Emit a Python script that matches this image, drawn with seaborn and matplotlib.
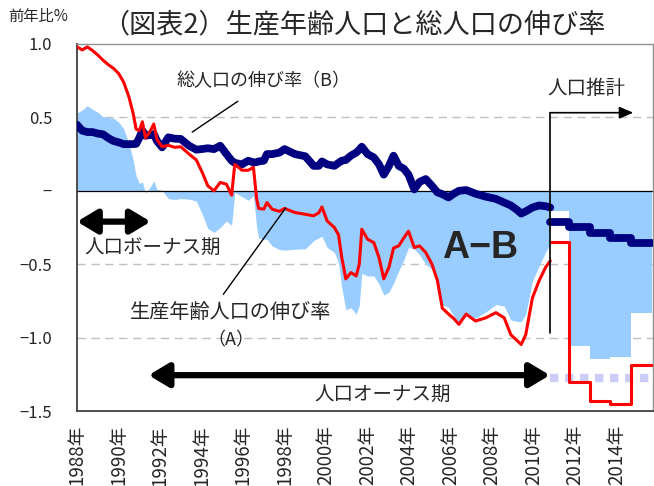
import numpy as np
import pandas as pd
import matplotlib
matplotlib.use("Agg")
import matplotlib.pyplot as plt
import seaborn as sns

# ---------------- data ----------------
hist_t = [1988.00, 1988.25, 1988.50, 1988.75, 1989.00, 1989.25, 1989.50, 1989.75,
          1990.00, 1990.25, 1990.50, 1990.70, 1990.85, 1991.00, 1991.15, 1991.30,
          1991.50, 1991.70, 1991.85, 1992.10, 1992.40, 1992.70, 1993.00, 1993.40,
          1993.75, 1994.05, 1994.30, 1994.60, 1994.90, 1995.20, 1995.45, 1995.60,
          1995.95, 1996.25, 1996.50, 1996.65, 1996.75, 1997.00, 1997.15, 1997.40,
          1997.75, 1998.00, 1998.50, 1999.00, 1999.40, 1999.65, 1999.80, 2000.05,
          2000.40, 2000.60, 2000.75, 2000.95, 2001.20, 2001.45, 2001.60, 2001.72,
          2002.00, 2002.30, 2002.55, 2002.78, 2003.03, 2003.25, 2003.50, 2003.75,
          2003.97, 2004.25, 2004.50, 2004.80, 2005.10, 2005.36, 2005.60, 2005.90,
          2006.15, 2006.40, 2006.75, 2007.20, 2007.70, 2008.18, 2008.58, 2008.90,
          2009.20, 2009.40, 2009.62, 2009.94, 2010.26, 2010.58, 2010.80]

# (A) working-age population growth
hist_A = [0.98, 0.96, 0.98, 0.955, 0.925, 0.89, 0.86, 0.835,
          0.80, 0.74, 0.64, 0.53, 0.42, 0.41, 0.47, 0.36,
          0.40, 0.455, 0.35, 0.30, 0.31, 0.296, 0.30, 0.25,
          0.21, 0.12, 0.034, 0.0, 0.057, 0.045, -0.03, 0.18,
          0.14, 0.14, 0.16, -0.05, -0.12, -0.125, -0.08, -0.125,
          -0.14, -0.12, -0.148, -0.16, -0.17, -0.15, -0.11, -0.205,
          -0.25, -0.30, -0.45, -0.60, -0.557, -0.58, -0.50, -0.262,
          -0.33, -0.353, -0.455, -0.60, -0.52, -0.39, -0.375, -0.32,
          -0.275, -0.387, -0.375, -0.42, -0.50, -0.61, -0.80, -0.84,
          -0.87, -0.91, -0.84, -0.887, -0.865, -0.83, -0.865, -0.98,
          -1.02, -1.047, -0.98, -0.73, -0.614, -0.52, -0.478]

# (B) total population growth
hist_B = [0.45, 0.41, 0.40, 0.40, 0.39, 0.385, 0.36, 0.34,
          0.33, 0.318, 0.318, 0.318, 0.32, 0.36, 0.41, 0.375,
          0.38, 0.387, 0.34, 0.296, 0.364, 0.355, 0.353, 0.307,
          0.28, 0.285, 0.29, 0.284, 0.307, 0.25, 0.205, 0.19,
          0.18, 0.205, 0.193, 0.195, 0.20, 0.205, 0.25, 0.25,
          0.26, 0.284, 0.25, 0.235, 0.17, 0.17, 0.20, 0.18,
          0.17, 0.19, 0.205, 0.21, 0.24, 0.26, 0.28, 0.30,
          0.25, 0.227, 0.18, 0.11, 0.17, 0.239, 0.17, 0.15,
          0.11, 0.01, 0.06, 0.08, 0.034, -0.01, -0.023, -0.045,
          -0.02, 0.0, 0.005, -0.02, -0.04, -0.055, -0.08, -0.10,
          -0.13, -0.155, -0.14, -0.114, -0.10, -0.105, -0.114]

proj_years = [2011, 2012, 2013, 2014, 2015]
proj_A = [-0.35, -1.30, -1.43, -1.45, -1.19]
proj_B = [-0.21, -0.244, -0.285, -0.32, -0.357]
proj_ref = -1.275   # light lavender dotted reference level

y_ticks = [1.0, 0.5, 0.0, -0.5, -1.0, -1.5]
y_ticklabels = ["1.0", "0.5", "\u2212", "\u22120.5", "\u22121.0", "\u22121.5"]
x_ticks = list(range(1988, 2015, 2))
x_ticklabels = [f"{y}年" for y in x_ticks]

# ---------------- style ----------------
sns.set_theme(style="white")
plt.rcParams["font.family"] = ["Noto Sans CJK JP", "DejaVu Sans"]
plt.rcParams["axes.unicode_minus"] = True

RED = "#FF0000"
NAVY = "#000080"
FILL = "#99CCFF"
LAV = "#CCCCF8"

fig = plt.figure(figsize=(6.54, 4.86), dpi=100)
ax = fig.add_axes([77 / 654, 1 - 411 / 486, (653 - 77) / 654, (411 - 44) / 486])

hist = pd.DataFrame({"t": hist_t, "A": hist_A, "B": hist_B})
hist["AB"] = hist["A"] - hist["B"]

# projection step edges (annual values)
edges = [hist_t[-1]] + [y + 0.7 for y in proj_years]
proj = pd.DataFrame({"t": edges,
                     "A": proj_A + [proj_A[-1]],
                     "B": proj_B + [proj_B[-1]]})
proj["AB"] = proj["A"] - proj["B"]

# fills A-B
ax.fill_between(hist["t"], 0, hist["AB"], color=FILL, lw=0, zorder=1)
ax.fill_between(proj["t"], 0, proj["AB"], step="post", color=FILL, lw=0, zorder=1)

# grid lines
for yv in [0.5, -0.5, -1.0]:
    ax.axhline(yv, color="#C0C0C0", lw=1.0, ls=(0, (6, 4)), zorder=0.5)
ax.axhline(0, color="black", lw=0.9, zorder=2)

# lines
sns.lineplot(data=hist, x="t", y="B", ax=ax, color=NAVY, lw=5.6, estimator=None,
             sort=False, solid_capstyle="round", solid_joinstyle="round", zorder=3)
sns.lineplot(data=hist, x="t", y="A", ax=ax, color=RED, lw=2.2, estimator=None,
             sort=False, zorder=4)
sns.lineplot(data=proj, x="t", y="B", ax=ax, color=NAVY, lw=5.6, estimator=None,
             sort=False, drawstyle="steps-post", zorder=3)
sns.lineplot(data=proj, x="t", y="A", ax=ax, color=RED, lw=2.2, estimator=None,
             sort=False, drawstyle="steps-post", zorder=4)
ax.plot([edges[0], edges[-1] + 0.1], [proj_ref, proj_ref], color=LAV, lw=6,
        ls=(0, (1.0, 0.8)), solid_capstyle="butt", zorder=2)

ax.set_xlim(1988.0, 2015.75)
ax.set_ylim(-1.5, 1.0)
ax.set_xlabel("")
ax.set_ylabel("")
ax.set_yticks(y_ticks)
ax.set_yticklabels(y_ticklabels, fontsize=12)
ax.set_xticks(x_ticks)
ax.set_xticklabels(x_ticklabels, rotation=90, fontsize=13.5)
ax.tick_params(axis="y", direction="in", length=4, width=1, color="#404040", pad=18)
ax.tick_params(axis="x", length=0, pad=10)
for s in ["left", "bottom"]:
    ax.spines[s].set_color("#404040")
    ax.spines[s].set_linewidth(1.3)
for s in ["top", "right"]:
    ax.spines[s].set_color("#909090")
    ax.spines[s].set_linewidth(1.0)

# ---------------- annotations ----------------
# 人口ボーナス期 arrow
ax.annotate("", xy=(1988.0, -0.21), xytext=(1991.55, -0.21),
            arrowprops=dict(arrowstyle="<|-|>,head_length=1.0,head_width=0.6",
                            lw=4.5, color="black", shrinkA=0, shrinkB=0))
ax.text(1991.65, -0.385, "人口ボーナス期", fontsize=14, ha="center", va="center")

# 人口オーナス期 arrow
ax.annotate("", xy=(1991.45, -1.256), xytext=(2010.78, -1.256),
            arrowprops=dict(arrowstyle="<|-|>,head_length=1.0,head_width=0.6",
                            lw=4.5, color="black", shrinkA=0, shrinkB=0))
ax.text(2002.7, -1.386, "人口オーナス期", fontsize=14, ha="center", va="center")

# 人口推計 arrow
ax.plot([2010.79, 2010.79], [-0.97, 0.532], color="black", lw=1.2, zorder=5)
ax.annotate("", xy=(2014.8, 0.532), xytext=(2010.79, 0.532),
            arrowprops=dict(arrowstyle="-|>,head_length=0.7,head_width=0.3",
                            lw=1.2, color="black", shrinkA=0, shrinkB=0))
ax.text(2012.55, 0.70, "人口推計", fontsize=14, ha="center", va="center")

# 総人口の伸び率（B）
ax.text(1997.0, 0.75, "総人口の伸び率（B）", fontsize=13, ha="center", va="center")
ax.plot([1993.55, 1995.75], [0.40, 0.61], color="black", lw=1.0, zorder=5)

# 生産年齢人口の伸び率（A）
ax.text(1995.42, -0.826, "生産年齢人口の伸び率", fontsize=14.5, ha="center", va="center")
ax.text(1995.42, -1.017, "（A）", fontsize=13, ha="center", va="center")
ax.plot([1995.05, 1998.05], [-0.705, -0.118], color="black", lw=1.0, zorder=5)

# A-B
ax.text(2007.42, -0.39, "A\u2212B", fontsize=27, fontweight="bold", ha="center",
        va="center", family=["Liberation Sans", "DejaVu Sans"])

# title and unit
fig.text(354 / 654, 1 - 25 / 486, "（図表2）生産年齢人口と総人口の伸び率",
         fontsize=19.5, ha="center", va="center")
fig.text(38 / 654, 1 - 16 / 486, "前年比%", fontsize=11, ha="center", va="center")

fig.savefig("out.png", dpi=100)
